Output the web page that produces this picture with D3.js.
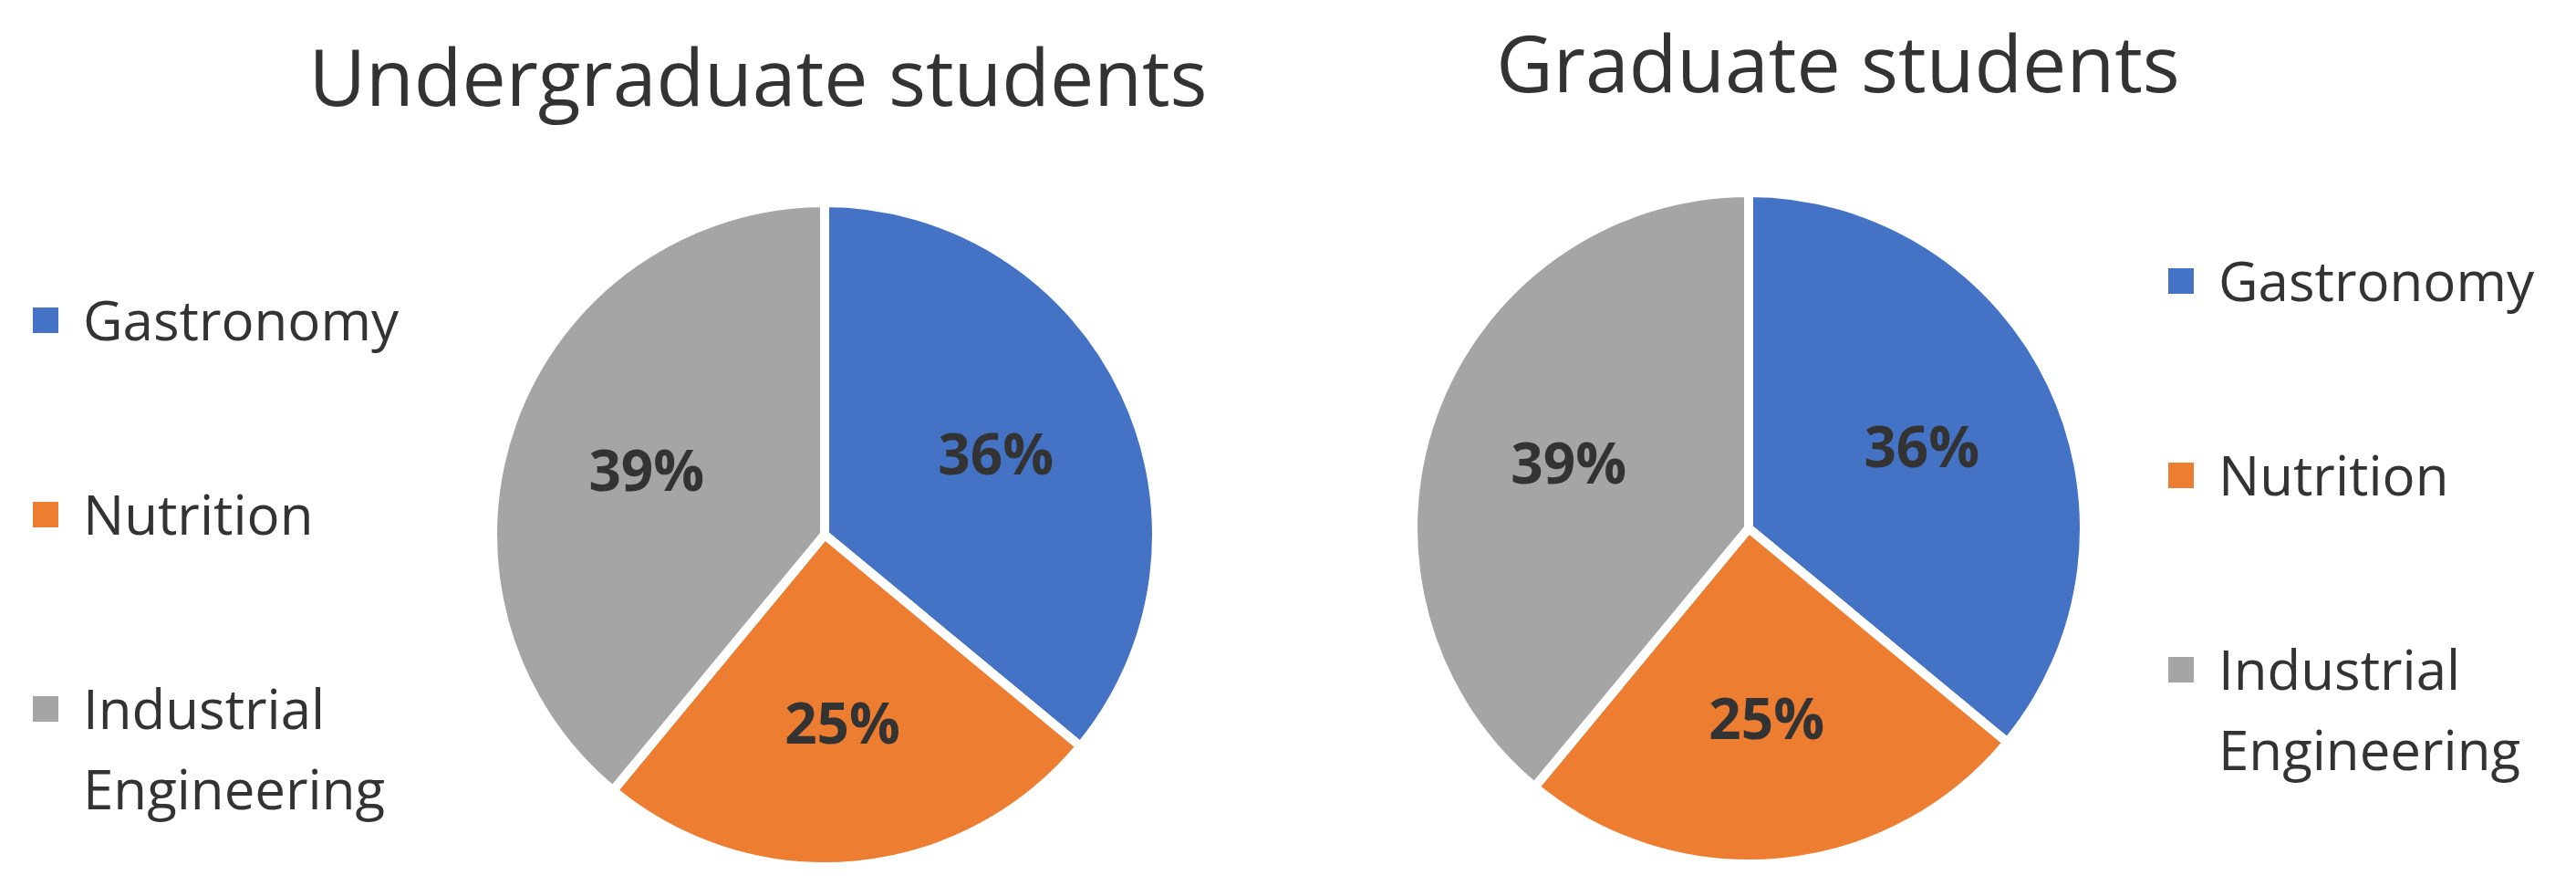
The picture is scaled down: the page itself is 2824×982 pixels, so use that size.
<!DOCTYPE html>
<html>
<head>
<meta charset="utf-8">
<script src="https://cdn.jsdelivr.net/npm/d3@7"></script>
<style>
  html, body { margin: 0; padding: 0; background: #fff; }
  text { font-family: "Open Sans", "Noto Sans", sans-serif; }
</style>
</head>
<body>
<div id="chart"></div>
<script>
// data
var categories = ["Gastronomy", "Nutrition", "Industrial Engineering"];
var undergradValues = [36, 25, 39];
var gradValues = [36, 25, 39];
var chartTitles = ["Undergraduate students", "Graduate students"];
var sliceColors = ["#4472C4", "#ED7D31", "#A5A5A5"];

var w = 2824, h = 982;
var textCOLOR = "#333333";

// one panel per pie: title, pie position, legend position
var panels = [
  { title: chartTitles[0], values: undergradValues,
    titleX: 831, titleY: 116, cx: 904, cy: 586, r: 364,
    legendX: 36, legendY: 373 },
  { title: chartTitles[1], values: gradValues,
    titleX: 2015, titleY: 101, cx: 1917, cy: 579, r: 368,
    legendX: 2377, legendY: 330 }
];

var mysvg = d3.select("#chart").append("svg")
  .attr("width", w).attr("height", h);

var pie = d3.pie().sort(null).value(function(d){ return d.value; });

panels.forEach(function(p){
  var g = mysvg.append("g");

  // title
  g.append("text")
    .attr("x", p.titleX).attr("y", p.titleY)
    .attr("text-anchor", "middle")
    .attr("font-size", 86)
    .attr("fill", textCOLOR)
    .text(p.title);

  var data = categories.map(function(c, i){ return { name: c, value: p.values[i], color: sliceColors[i] }; });
  var total = d3.sum(data, function(d){ return d.value; });
  var arcs = pie(data);

  var arc = d3.arc().innerRadius(0).outerRadius(p.r);
  var labelArc = d3.arc().innerRadius(p.r * 0.57).outerRadius(p.r * 0.57);

  var pg = g.append("g").attr("transform", "translate(" + p.cx + "," + p.cy + ")");
  pg.selectAll("path.slice")
    .data(arcs)
    .enter().append("path")
    .attr("class", "slice")
    .attr("d", arc)
    .attr("fill", function(d){ return d.data.color; })
    .attr("stroke", "#ffffff")
    .attr("stroke-width", 10)
    .attr("stroke-linejoin", "round");

  pg.selectAll("text.lbl")
    .data(arcs)
    .enter().append("text")
    .attr("class", "lbl")
    .attr("transform", function(d){ return "translate(" + labelArc.centroid(d) + ")"; })
    .attr("text-anchor", "middle")
    .attr("dy", "0.36em")
    .attr("font-size", 62)
    .attr("font-weight", "bold")
    .attr("fill", textCOLOR)
    .text(function(d){ return Math.round(d.data.value / total * 100) + "%"; });

  // legend
  var lg = g.append("g");
  var item = lg.selectAll("g.item")
    .data(data)
    .enter().append("g")
    .attr("class", "item")
    .attr("transform", function(d, i){ return "translate(" + p.legendX + "," + (p.legendY + i * 213) + ")"; });
  item.append("rect")
    .attr("x", 0).attr("y", -36)
    .attr("width", 28).attr("height", 28)
    .attr("fill", function(d){ return d.color; });
  var t = item.append("text")
    .attr("x", 55).attr("y", 0)
    .attr("font-size", 60)
    .attr("fill", textCOLOR);
  t.selectAll("tspan")
    .data(function(d){ return d.name.split(" "); })
    .enter().append("tspan")
    .attr("x", 55)
    .attr("dy", function(d, i){ return i === 0 ? 0 : 88; })
    .text(function(d){ return d; });
});
</script>
</body>
</html>
